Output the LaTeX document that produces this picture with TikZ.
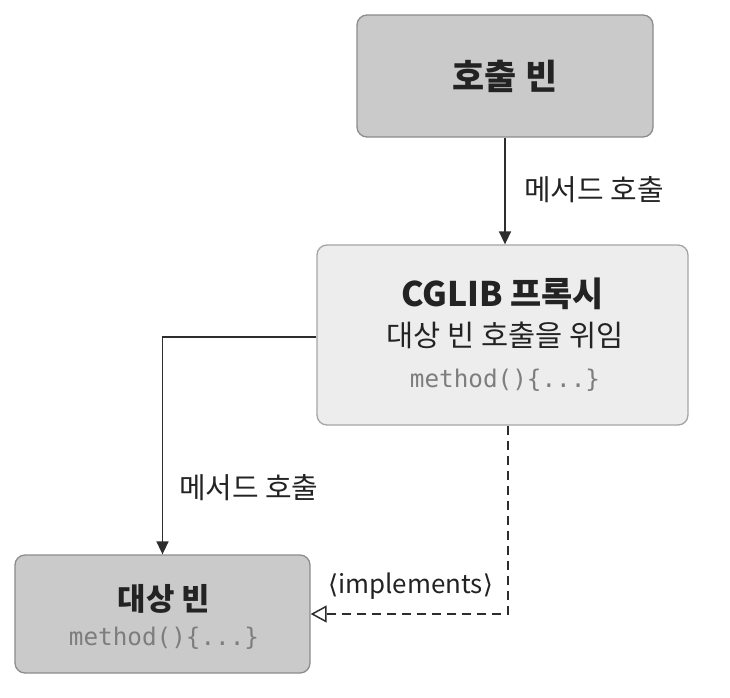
\documentclass[tikz,border=0pt]{standalone}
\usepackage{fontspec}
\setmainfont{Noto Sans CJK KR}
\setmonofont{DejaVu Sans Mono}
\newfontfamily\dejavu{DejaVu Sans}
\newfontfamily\latinsans{Liberation Sans}
\usetikzlibrary{arrows.meta}
\definecolor{darkbox}{RGB}{202,202,202}
\definecolor{darkborder}{RGB}{140,140,140}
\definecolor{lightbox}{RGB}{237,237,237}
\definecolor{lightborder}{RGB}{165,165,165}
\definecolor{inktext}{RGB}{35,35,35}
\definecolor{codegray}{RGB}{125,125,125}
\definecolor{lineink}{RGB}{45,45,45}
\tikzset{
  darkbeanbox/.style={draw=darkborder, fill=darkbox, line width=1.3bp, rounded corners=10bp, align=center, text=inktext},
  lightbeanbox/.style={draw=lightborder, fill=lightbox, line width=1.3bp, rounded corners=10bp, align=center, text=inktext},
  callarrow/.style={draw=lineink, line width=1.5bp, -{Triangle[width=12bp,length=13bp]}},
  implarrow/.style={draw=lineink, line width=1.5bp, dash pattern=on 9bp off 6bp, -{Triangle[open,width=17bp,length=16bp,fill=white]}},
  lbl/.style={text=inktext, font=\fontsize{29}{34}\selectfont, inner sep=0pt},
}
\newcommand{\codetxt}[1]{{\ttfamily\color{codegray}\fontsize{24.4}{28}\selectfont #1}}
\begin{document}
\begin{tikzpicture}[x=1bp,y=-1bp]
\useasboundingbox (0,0) rectangle (730,698);
\node[darkbeanbox, minimum width=296bp, minimum height=122bp, font=\fontsize{35}{40}\selectfont\bfseries] (caller) at (505,76) {호출 빈};
\node[lightbeanbox, minimum width=371bp, minimum height=180bp] (proxy) at (502.5,335) {};
\node[text=inktext, font=\fontsize{34}{38}\selectfont\bfseries, inner sep=0pt] (proxyt1) at (502.5,294) {CGLIB 프록시};
\node[text=inktext, font=\fontsize{29.6}{34}\selectfont, inner sep=0pt] (proxyt2) at (505,335) {대상 빈 호출을 위임};
\node[inner sep=0pt] (proxyt3) at (505,380) {\codetxt{method()\{...\}}};
\node[darkbeanbox, minimum width=295bp, minimum height=118bp] (target) at (162.5,614) {};
\node[text=inktext, font=\fontsize{31}{36}\selectfont\bfseries, inner sep=0pt] (targett1) at (164,599) {대상 빈};
\node[inner sep=0pt] (targett2) at (164,638) {\codetxt{method()\{...\}}};
\coordinate (dashx) at (508,0);
\draw[callarrow] (caller.south) -- (caller.south |- proxy.north);
\draw[callarrow] (proxy.west |- 0,337) -| (target.north);
\draw[implarrow] (proxy.south -| dashx) |- (target.east);
\node[lbl, anchor=west] (lbltop) at (524,190) {메서드 호출};
\node[lbl, anchor=west] (lblleft) at (179,488) {메서드 호출};
\node[lbl, anchor=west, font=\fontsize{26}{30}\selectfont] (lblimpl) at (328,586) {{\dejavu ⟨}implements{\dejavu ⟩}};
\end{tikzpicture}
\end{document}
